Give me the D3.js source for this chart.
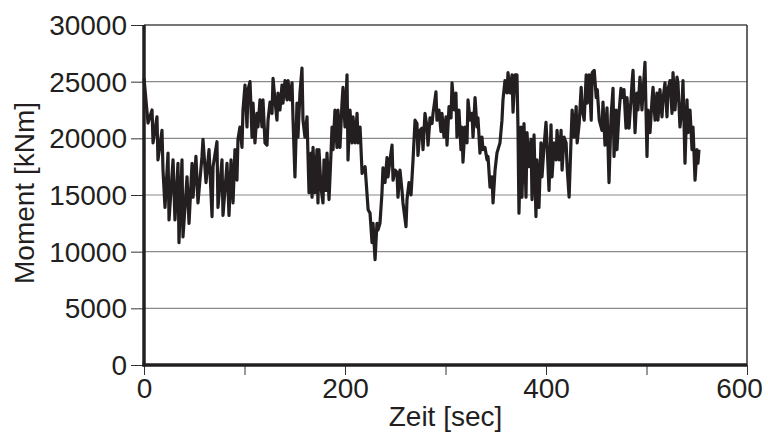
<!DOCTYPE html>
<html>
<head>
<meta charset="utf-8">
<script src="https://cdn.jsdelivr.net/npm/d3@7"></script>
<style>
  html, body { margin: 0; padding: 0; background: #fff; }
  svg { display: block; }
  text { font-family: "Liberation Sans", Arial, sans-serif; fill: #231f20; }
</style>
</head>
<body>
<svg id="chart" width="768" height="438"></svg>
<script>
// ---- data ----
const time = [
  0, 4, 8, 9, 12.9, 13.9, 17.9, 18.9, 20.9, 23.9, 24.9, 28.9, 30.8, 33.8, 34.8, 37.8, 38.8, 42.8, 44.8, 47.8,
  48.8, 51.7, 53.7, 57.7, 58.7, 61.7, 64.7, 67.7, 68.7, 72.6, 73.6, 77.6, 78.6, 82.6, 84.6, 86.6, 88.6, 90.5, 92.5, 93.5,
  95.5, 97.5, 98.5, 100.5, 102.5, 103.5, 105.5,
  107.5, 108.5, 110.4, 112.4, 113.4, 115.4, 117.4, 118.4, 120.4, 122.4, 123.4, 125.4, 127.4, 128.4, 130.3, 132.3, 133.3, 135.3, 137.3, 138.3,
  140.3, 142.3, 143.3, 145.3, 147.3, 148.3, 150.2, 152.2, 153.2, 155.2, 157.2, 158.2, 160.2, 162.2, 163.2, 164.2, 166.2, 167.2, 168.2, 170.1,
  172.1, 173.1, 174.1, 176.1, 178.1, 179.1, 181.1, 182.1, 184.1, 186.1, 187.1, 188.1, 190, 192, 193, 195, 197, 198, 200, 202,
  203, 205, 207, 208, 210, 212, 213, 215, 217, 220, 223,
  224.9, 226.9, 227.9, 229.9, 231.8, 232.8, 234.8, 236.8, 237.8, 239.8, 241.8, 242.8, 244.8, 246.8, 247.8, 249.8, 251.7, 252.7, 254.7, 256.7,
  257.7, 260.7, 261.7, 263.7, 265.7, 267.7, 269.7, 271.6, 272.6, 274.6, 276.6, 277.6, 279.6, 281.6, 282.6, 284.6, 286.6, 287.6, 290.5, 291.5,
  293.5, 295.5, 296.5, 298.5, 300.5, 301.5, 303.5, 305.5, 306.5, 308.5, 310.4, 311.4, 313.4, 315.4, 316.4, 317.4, 319.4, 321.4, 322.4, 324.4,
  326.4, 327.4, 329.4, 331.3, 332.3, 334.3, 336.3, 337.3, 339.3, 341.3, 342.3,
  344.3, 346.3, 347.3, 349.3, 351.2, 352.2, 354.2, 356.2, 357.2, 359.2, 361.2, 362.2, 364.2, 366.2, 367.2, 369.2, 371.1, 372.1, 373.1, 375.1,
  376.1, 378.1, 380.1, 381.1, 383.1, 385.1, 386.1, 388.1, 390, 391, 393, 395, 396, 398, 400, 401, 403, 405, 406, 408,
  410, 411, 413, 415, 416, 418, 420, 421, 423, 425, 426, 428, 430, 431, 433, 435, 436, 438, 440, 441,
  443, 445, 446, 448, 450, 451, 453,
  455.7, 456.7, 458.7, 460.7, 462.7, 464.7, 466.7, 467.7, 469.7, 470.6, 472.6, 474.6, 475.6, 477.6, 479.6, 480.6, 482.6, 484.6, 485.6, 486.6,
  488.6, 490.5, 491.5, 493.5, 495.5, 496.5, 498.5, 500.5, 501.5, 503.5, 505.5, 506.5, 508.5, 510.4, 511.4, 513.4, 515.4, 516.4, 518.4, 520.4,
  521.4, 523.4, 525.4, 526.4, 528.4, 530.3, 531.3, 533.3, 535.3, 536.3, 538.3, 540.3, 541.3, 543.3, 545.3, 546.3, 548.3, 550.2, 551.2, 552.2
];
const moment = [
  25300, 21350, 22500, 19600, 21900, 18100, 20700, 17200, 13900, 18700, 12800, 18100, 12800, 17800, 10800, 18100, 11300, 16600, 12500, 17800,
  14800, 18400, 14300, 18400, 19900, 16100, 19000, 13100, 17500, 19700, 13900, 18100, 13200, 17800, 13200, 18100, 14300, 19000, 16300, 19900,
  21000, 19200, 22500, 24700, 21000, 24300, 25000,
  20100, 23100, 19600, 22200, 21000, 23400, 21000, 23400, 19600, 19400, 21600, 23200, 22200, 25300, 23400, 21600, 24000, 22500, 24700, 23100,
  25100, 23400, 25100, 23400, 24900, 21600, 16600, 23100, 20100, 24000, 26200, 21600, 20100, 21900, 18400, 15200, 18700, 14800, 19200, 15200,
  19000, 14300, 19000, 15700, 14300, 18100, 15400, 18700, 14600, 18700, 21000, 19000, 22500, 19200, 22500, 19200, 23100, 24500, 21000, 25600,
  18100, 22500, 19600, 21900, 19600, 22200, 19600, 21000, 16900, 17500, 13700,
  13400, 10800, 12500, 9300, 12500, 11900, 12500, 15200, 17400, 16100, 18300, 16600, 18100, 19400, 16300, 17200, 17000, 14800, 17200, 15400,
  14300, 12200, 14600, 16100, 15000, 18100, 21600, 21300, 18500, 20700, 20900, 19000, 22200, 21000, 19400, 21800, 21300, 22200, 24100, 21600,
  22500, 20600, 22200, 20100, 21900, 19400, 22800, 21800, 24900, 22500, 24000, 20100, 22500, 19000, 21000, 17900, 21000, 19600, 23400, 21600,
  22200, 20100, 23600, 21000, 21800, 18700, 20100, 19000, 19200, 18100, 18400,
  15700, 16600, 14300, 17200, 18700, 19000, 19600, 21600, 23400, 25100, 24000, 25800, 24000, 25600, 22300, 25600, 25600, 21000, 13400, 21000,
  14800, 21300, 14800, 20500, 17500, 19900, 14600, 20300, 13100, 18100, 13900, 19600, 16600, 19200, 21400, 19600, 15400, 21200, 16600, 19600,
  18100, 20700, 18100, 20700, 17200, 20100, 19600, 17500, 14800, 20100, 22500, 20100, 22800, 19600, 21300, 24500, 22500, 21600, 25600, 23100,
  25600, 21600, 25800, 26000, 23600, 24300, 21600,
  20700, 23200, 19400, 22700, 16100, 21900, 24400, 18400, 22500, 19000, 22200, 24400, 23600, 24300, 20900, 23600, 20900, 23400, 24900, 26000,
  20500, 24000, 22500, 25400, 22500, 24000, 26700, 18400, 22500, 20500, 23400, 24500, 21600, 24000, 21600, 24300, 21900, 23400, 24900, 21900,
  24300, 25100, 22200, 25800, 22500, 25400, 24900, 21000, 22800, 25100, 17800, 23400, 20500, 22500, 19000, 21000, 16300, 19000, 17800, 19000
];
const yTicks = [0, 5000, 10000, 15000, 20000, 25000, 30000];
const xTicks = [0, 100, 200, 300, 400, 500, 600];
const xTickLabels = [0, 200, 400, 600];
const xTitle = "Zeit [sec]";
const yTitle = "Moment [kNm]";

// ---- layout ----
const L = 144, R = 747, T = 25, B = 365;
const svg = d3.select("#chart");
const x = d3.scaleLinear().domain([0, 600]).range([L, R]);
const y = d3.scaleLinear().domain([0, 30000]).range([B, T]);
const ink = "#231f20";

// gridlines
svg.append("g").selectAll("line")
  .data(yTicks.filter(v => v > 0 && v < 30000))
  .join("line")
  .attr("x1", L).attr("x2", R)
  .attr("y1", d => y(d)).attr("y2", d => y(d))
  .attr("stroke", "#8a8a8a").attr("stroke-width", 1.2);

// top & right frame
svg.append("line").attr("x1", L).attr("x2", R).attr("y1", y(30000)).attr("y2", y(30000))
  .attr("stroke", "#4a4a4a").attr("stroke-width", 1.5);
svg.append("line").attr("x1", R).attr("x2", R).attr("y1", T).attr("y2", B)
  .attr("stroke", "#333").attr("stroke-width", 1.5);

// y axis
const yAxis = d3.axisLeft(y).tickValues(yTicks).tickSize(13).tickPadding(4).tickFormat(d3.format("d"));
const gy = svg.append("g").attr("transform", `translate(${L},0)`).call(yAxis);
gy.select(".domain").remove();
gy.selectAll(".tick line").attr("stroke", "#333").attr("stroke-width", 1);
gy.selectAll(".tick text").attr("font-size", 28).attr("fill", ink)
  .attr("font-family", "Liberation Sans, Arial, sans-serif").attr("dy", "0.34em");

// x axis
const xAxis = d3.axisBottom(x).tickValues(xTicks).tickSize(10).tickPadding(3)
  .tickFormat(d => xTickLabels.includes(d) ? d : "");
const gx = svg.append("g").attr("transform", `translate(0,${B})`).call(xAxis);
gx.select(".domain").remove();
gx.selectAll(".tick line").attr("stroke", "#333").attr("stroke-width", 1);
gx.selectAll(".tick text").attr("font-size", 28).attr("fill", ink)
  .attr("font-family", "Liberation Sans, Arial, sans-serif");
gx.selectAll(".tick text").filter(d => d === 600).attr("dx", -8);

// the data line
const line = d3.line().x((d, i) => x(time[i])).y(d => y(d));
svg.append("path").datum(moment)
  .attr("d", line)
  .attr("fill", "none").attr("stroke", ink).attr("stroke-width", 3.2)
  .attr("stroke-linejoin", "round");

// thick axis lines
svg.append("line").attr("x1", L).attr("x2", L).attr("y1", T).attr("y2", B + 1.5)
  .attr("stroke", ink).attr("stroke-width", 3.5);
svg.append("line").attr("x1", L - 1.5).attr("x2", R).attr("y1", B).attr("y2", B)
  .attr("stroke", ink).attr("stroke-width", 3.5);

// titles
svg.append("text").attr("x", (L + R) / 2).attr("y", 426).attr("text-anchor", "middle")
  .attr("font-size", 28).text(xTitle);
svg.append("text").attr("transform", `translate(34,193) rotate(-90)`)
  .attr("text-anchor", "middle").attr("font-size", 28).text(yTitle);
</script>
</body>
</html>
